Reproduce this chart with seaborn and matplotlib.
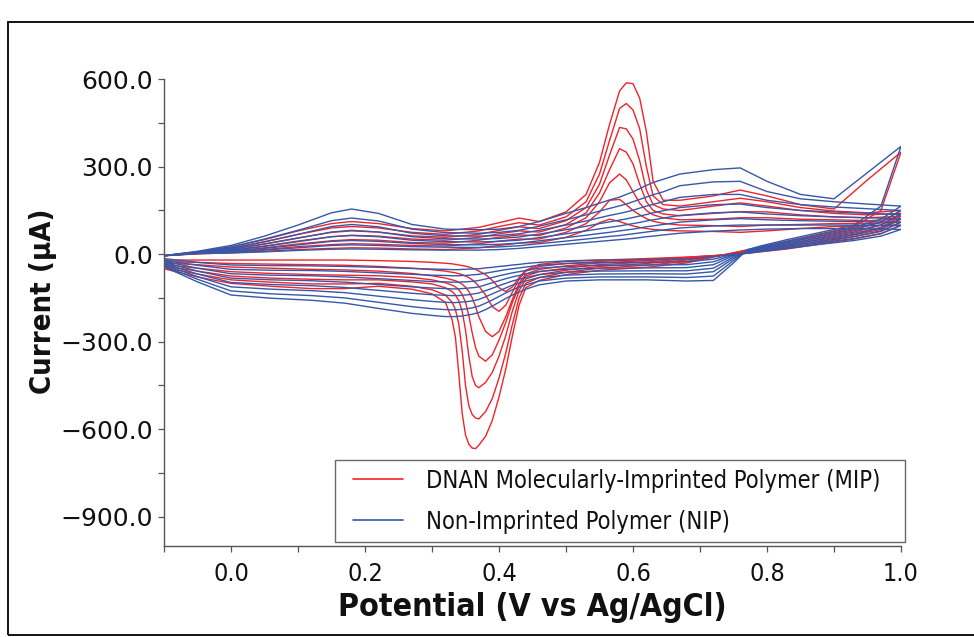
import numpy as np
import pandas as pd
import matplotlib
matplotlib.use("Agg")
import matplotlib.pyplot as plt
import seaborn as sns
from matplotlib.lines import Line2D
from matplotlib.patches import Rectangle
from matplotlib.ticker import MultipleLocator, FuncFormatter
from matplotlib.legend_handler import HandlerBase

# ---------------- data ----------------
fwd_potential = [-0.10, -0.05, 0.00, 0.05, 0.10, 0.15, 0.18, 0.22, 0.27, 0.32, 0.37, 0.40, 0.43, 0.46,
                 0.50, 0.53, 0.55, 0.565, 0.58, 0.59, 0.60, 0.61, 0.62, 0.63, 0.645,
                 0.67, 0.72, 0.76, 0.80, 0.85, 0.90, 0.95, 1.00]
rev_potential = [1.00, 0.97, 0.93, 0.88, 0.83, 0.79, 0.77, 0.75, 0.72, 0.68, 0.62, 0.55, 0.50,
                 0.46, 0.44, 0.43, 0.42, 0.41, 0.40, 0.39, 0.38, 0.37, 0.365, 0.36, 0.355, 0.35,
                 0.345, 0.34, 0.335, 0.33, 0.32, 0.30,
                 0.27, 0.22, 0.17, 0.12, 0.06, 0.00, -0.05, -0.10]

mip_forward = [
    [-5, 8, 25, 50, 80, 105, 112, 105, 88, 80, 92, 108, 124, 112, 145, 205, 315, 445, 560, 588, 585, 535, 420, 250, 185, 185, 200, 220, 200, 170, 155, 255, 350],
    [-5, 6, 20, 42, 68, 90, 95, 90, 75, 68, 80, 95, 108, 100, 128, 180, 275, 390, 500, 517, 495, 430, 300, 200, 170, 165, 180, 192, 180, 160, 148, 142, 150],
    [-5, 5, 17, 35, 56, 75, 80, 76, 63, 58, 68, 82, 94, 88, 115, 160, 240, 340, 435, 430, 395, 320, 220, 170, 155, 150, 165, 176, 165, 150, 140, 135, 140],
    [-5, 4, 14, 28, 45, 60, 65, 62, 52, 48, 58, 70, 80, 76, 102, 142, 210, 290, 362, 350, 310, 240, 180, 150, 138, 132, 140, 146, 145, 135, 128, 125, 130],
    [-5, 3, 10, 22, 35, 46, 50, 48, 40, 38, 48, 58, 66, 64, 90, 125, 180, 245, 275, 255, 215, 175, 150, 135, 125, 118, 120, 125, 125, 120, 118, 115, 120],
    [-5, 2, 8, 16, 26, 33, 36, 34, 30, 28, 36, 45, 52, 52, 75, 105, 145, 185, 188, 170, 150, 135, 122, 113, 106, 100, 98, 95, 100, 102, 105, 105, 110],
    [-5, 1, 5, 10, 16, 20, 22, 21, 18, 16, 22, 30, 38, 40, 58, 82, 108, 120, 112, 104, 97, 92, 88, 85, 82, 80, 78, 75, 80, 88, 95, 98, 100],
]
mip_reverse = [
    [350, 150, 95, 70, 45, 25, 15, 5, -10, -30, -45, -55, -70,
     -90, -115, -175, -280, -395, -490, -570, -625, -655, -667, -665, -652, -620, -545, -410, -285, -225, -165, -136,
     -120, -110, -118, -118, -110, -100, -78, -50],
    [150, 110, 88, 64, 40, 22, 13, 4, -8, -25, -38, -48, -62,
     -80, -100, -150, -240, -340, -425, -495, -540, -565, -562, -550, -520, -450, -330, -240, -190, -165, -140, -122,
     -110, -100, -102, -102, -96, -88, -68, -45],
    [140, 100, 80, 58, 35, 18, 10, 2, -7, -20, -32, -42, -55,
     -70, -85, -125, -195, -280, -350, -405, -440, -458, -450, -420, -350, -260, -195, -160, -140, -128, -115, -102,
     -95, -88, -88, -86, -82, -75, -58, -40],
    [130, 92, 72, 52, 30, 15, 8, 0, -6, -16, -27, -36, -48,
     -60, -75, -110, -165, -235, -295, -345, -367, -350, -320, -270, -210, -165, -138, -122, -112, -106, -98, -88,
     -80, -74, -72, -70, -66, -60, -48, -35],
    [120, 85, 66, 46, 26, 12, 6, -1, -5, -13, -22, -30, -40,
     -52, -68, -100, -155, -215, -265, -283, -265, -215, -180, -150, -128, -113, -103, -96, -91, -88, -82, -74,
     -66, -58, -54, -52, -48, -44, -36, -30],
    [110, 78, 60, 40, 22, 10, 4, -2, -5, -11, -18, -25, -32,
     -42, -58, -85, -130, -175, -196, -180, -140, -110, -98, -88, -80, -75, -70, -67, -64, -62, -58, -53,
     -48, -42, -38, -36, -34, -32, -28, -25],
    [100, 70, 52, 35, 18, 8, 3, -2, -5, -10, -15, -20, -25,
     -35, -55, -80, -112, -128, -115, -90, -70, -58, -52, -48, -44, -41, -39, -37, -35, -33, -31, -28,
     -25, -22, -20, -20, -20, -20, -20, -20],
]

nip_forward = [
    [-5, 10, 30, 62, 100, 142, 155, 140, 102, 86, 84, 86, 95, 112, 140, 160, 175, 186, 196, 205, 214, 225, 236, 246, 257, 275, 290, 296, 250, 205, 190, 280, 370],
    [-5, 8, 25, 52, 82, 115, 124, 114, 86, 74, 72, 75, 82, 96, 118, 135, 148, 157, 166, 172, 180, 188, 196, 204, 214, 235, 248, 250, 215, 190, 180, 172, 165],
    [-5, 7, 21, 43, 68, 95, 102, 94, 72, 63, 62, 64, 70, 82, 100, 114, 125, 133, 140, 145, 151, 158, 165, 171, 180, 195, 205, 205, 185, 170, 162, 156, 150],
    [-5, 6, 17, 35, 55, 76, 82, 76, 60, 53, 52, 54, 59, 69, 84, 96, 105, 111, 117, 121, 126, 131, 136, 142, 149, 160, 170, 172, 160, 150, 145, 140, 136],
    [-5, 5, 13, 27, 43, 60, 64, 60, 48, 43, 42, 44, 48, 57, 70, 80, 87, 92, 97, 101, 105, 109, 114, 118, 124, 133, 142, 145, 138, 132, 128, 125, 122],
    [-5, 4, 10, 20, 32, 44, 47, 44, 37, 33, 32, 34, 38, 46, 57, 65, 71, 75, 80, 83, 86, 90, 94, 97, 102, 110, 118, 122, 118, 115, 113, 111, 110],
    [-5, 3, 7, 14, 22, 30, 32, 30, 26, 24, 23, 25, 29, 36, 45, 52, 57, 61, 64, 67, 70, 73, 76, 79, 83, 90, 97, 100, 100, 100, 100, 99, 98],
    [-5, 2, 4, 8, 13, 17, 18, 17, 15, 14, 14, 16, 20, 26, 34, 40, 44, 47, 50, 52, 54, 57, 60, 62, 66, 72, 79, 83, 86, 88, 88, 87, 85],
]
nip_reverse = [
    [370, 165, 100, 75, 50, 28, 15, -30, -90, -92, -88, -88, -92,
     -105, -120, -130, -140, -152, -165, -178, -190, -200, -203, -206, -208, -210, -212, -213, -214, -214, -214, -210,
     -203, -186, -168, -158, -151, -140, -95, -43],
    [165, 120, 92, 68, 44, 24, 13, -22, -75, -80, -78, -78, -82,
     -92, -105, -113, -122, -133, -145, -157, -168, -178, -181, -184, -186, -188, -189, -190, -191, -191, -190, -187,
     -180, -165, -150, -142, -136, -126, -86, -40],
    [150, 110, 84, 62, 40, 21, 11, -15, -60, -68, -67, -68, -72,
     -80, -92, -99, -106, -116, -126, -136, -146, -155, -158, -160, -162, -163, -164, -165, -166, -166, -165, -162,
     -156, -144, -132, -125, -120, -112, -77, -36],
    [136, 100, 76, 56, 35, 18, 9, -10, -48, -57, -57, -58, -62,
     -70, -80, -86, -92, -100, -108, -117, -125, -133, -135, -137, -139, -140, -141, -142, -142, -142, -141, -139,
     -134, -124, -114, -108, -104, -97, -68, -32],
    [122, 90, 68, 50, 31, 15, 7, -5, -36, -46, -47, -48, -52,
     -59, -68, -73, -78, -84, -91, -98, -105, -112, -114, -115, -116, -117, -118, -119, -119, -119, -118, -116,
     -112, -104, -96, -91, -88, -82, -58, -28],
    [110, 80, 61, 44, 27, 13, 5, -2, -26, -36, -37, -38, -42,
     -48, -56, -60, -64, -69, -74, -80, -85, -90, -92, -93, -94, -95, -95, -96, -96, -96, -95, -94,
     -90, -84, -78, -74, -72, -67, -48, -24],
    [98, 71, 54, 39, 23, 11, 4, 0, -17, -26, -28, -29, -32,
     -38, -44, -47, -50, -53, -57, -61, -65, -69, -70, -71, -72, -73, -73, -74, -74, -74, -73, -72,
     -69, -64, -59, -56, -55, -52, -38, -20],
    [85, 62, 47, 34, 20, 9, 3, 0, -8, -17, -19, -20, -23,
     -28, -32, -35, -37, -40, -42, -45, -47, -50, -50, -51, -51, -52, -52, -53, -53, -53, -52, -51,
     -49, -45, -42, -40, -39, -37, -28, -15],
]

series_labels = ["DNAN Molecularly-Imprinted Polymer (MIP)", "Non-Imprinted Polymer (NIP)"]
series_colors = ["#f0222a", "#3558a8"]
x_ticks = [0.0, 0.2, 0.4, 0.6, 0.8, 1.0]
y_ticks = [-900, -600, -300, 0, 300, 600]

# ---------------- build long table ----------------
rows = []
for label, fwd_all, rev_all in [(series_labels[0], mip_forward, mip_reverse),
                                (series_labels[1], nip_forward, nip_reverse)]:
    for c, (f, r) in enumerate(zip(fwd_all, rev_all)):
        assert len(f) == len(fwd_potential) and len(r) == len(rev_potential), (label, c, len(f), len(r))
        order = 0
        for v, i in zip(fwd_potential, f):
            rows.append((label, c, order, v, i)); order += 1
        for v, i in zip(rev_potential, r):
            rows.append((label, c, order, v, i)); order += 1
df = pd.DataFrame(rows, columns=["series", "cycle", "order", "potential", "current"])

sns.set_theme(style="white")
plt.rcParams["font.family"] = ["DejaVu Sans"]

fig = plt.figure(figsize=(9.74, 6.37), dpi=100)
ax = fig.add_axes([164 / 974, 1 - 545.7 / 637, (901 - 164) / 974, (545.7 - 79.3) / 637])

for label, color in zip(series_labels, series_colors):
    sub = df[df["series"] == label]
    sns.lineplot(data=sub, x="potential", y="current", units="cycle", estimator=None,
                 sort=False, color=color, linewidth=1.0, ax=ax, legend=False)

ax.set_xlim(-0.1, 1.0)
ax.set_ylim(-1000, 600)
ax.xaxis.set_minor_locator(MultipleLocator(0.1))
ax.yaxis.set_minor_locator(MultipleLocator(150))
ax.set_xticks(x_ticks)
ax.set_yticks(y_ticks)
ax.xaxis.set_major_formatter(FuncFormatter(lambda v, p: f"{v:.1f}".replace("-", "\u2212")))
ax.yaxis.set_major_formatter(FuncFormatter(lambda v, p: f"{v:.1f}".replace("-", "\u2212")))

for s in ["top", "right"]:
    ax.spines[s].set_visible(False)
for s in ["left", "bottom"]:
    ax.spines[s].set_color("#555555")
    ax.spines[s].set_linewidth(1.0)

ax.tick_params(axis="both", which="both", direction="out", length=4, width=0.9,
               color="#555555", bottom=True, left=True)
ax.tick_params(axis="y", which="major", labelsize=18, pad=4, labelcolor="#111111")
ax.tick_params(axis="x", which="major", labelsize=18, pad=8, labelcolor="#111111")
for t in ax.get_xticklabels():
    t.set_stretch("condensed")

ax.set_xlabel("Potential (V vs Ag/AgCl)", fontsize=23, fontweight="bold",
              fontstretch="condensed", labelpad=4, color="#111111")
ax.set_ylabel("Current (\u03bcA)", fontsize=21, fontweight="bold",
              fontstretch="condensed", color="#111111")
ax.yaxis.set_label_coords((57 - 164) / 737, (545.7 - 301) / 466.4)


class OffsetLineHandler(HandlerBase):
    def create_artists(self, legend, orig_handle, xdescent, ydescent, width, height, fontsize, trans):
        y = (height - ydescent) / 2.0
        line = Line2D([-xdescent + 7.0, -xdescent + 43.0], [y, y],
                      color=orig_handle.get_color(), linewidth=orig_handle.get_linewidth())
        line.set_transform(trans)
        return [line]


handles = [Line2D([], [], color=c, linewidth=1.2) for c in series_colors]
leg = ax.legend(handles, series_labels, loc="lower left",
                bbox_to_anchor=(335 / 974, 1 - 542 / 637, 570 / 974, 0.1),
                bbox_transform=fig.transFigure, mode="expand", fontsize=17, frameon=True,
                fancybox=False, borderpad=0.36, handlelength=2.6, handletextpad=0.9,
                labelspacing=0.71, borderaxespad=0,
                handler_map={Line2D: OffsetLineHandler()})
leg.get_frame().set_edgecolor("#444444")
leg.get_frame().set_linewidth(1.0)
for t in leg.get_texts():
    t.set_stretch("condensed")
    t.set_color("#111111")

fig.patches.append(Rectangle((8 / 974, 2 / 637), 1.2, 1 - 22 / 637 - 2 / 637,
                             transform=fig.transFigure, fill=False, edgecolor="black",
                             linewidth=1.3, zorder=0))

fig.savefig("out.png", dpi=100)
